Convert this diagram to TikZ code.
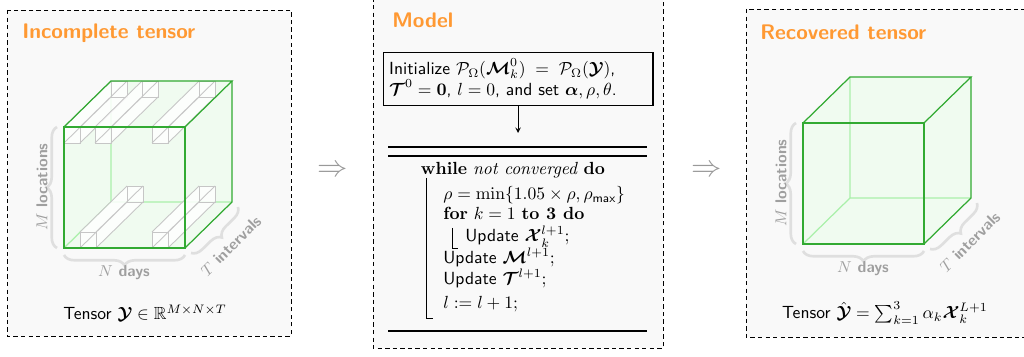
\documentclass[tikz,border=0pt]{standalone}
\usepackage{amsmath,amssymb,bm}
\usetikzlibrary{positioning,decorations.pathreplacing,arrows}

\definecolor{titleorange}{RGB}{255,153,51}
\definecolor{cubegreen}{RGB}{50,170,50}
\definecolor{cubelight}{RGB}{170,240,170}
\definecolor{cubefill}{RGB}{240,252,240}
\definecolor{panelgray}{RGB}{249,249,249}

\begin{document}
\begin{tikzpicture}[x=0.02cm,y=-0.02cm,
  panel/.style={draw, fill=panelgray, dash pattern=on 2.5pt off 1.8pt, line width=0.5pt},
  title/.style={text=titleorange, font=\sffamily\bfseries\large, anchor=west, inner sep=0},
  edge/.style={cubegreen, line width=0.7pt},
  hidden/.style={cubelight, line width=0.7pt},
  tube/.style={gray!45, line width=0.5pt},
  brace/.style={gray!25, line width=1.5pt, decorate, decoration={brace, amplitude=6pt}},
  axis/.style={text=gray!75, font=\sffamily\bfseries\small},
  algo/.style={anchor=base west, inner sep=0},
  rule/.style={line width=0.8pt}
]
\clip (0,0) rectangle (1024,357);

% panels
\draw[panel] (7,10) rectangle (291,336);
\draw[panel] (373,-10) rectangle (663,348);
\draw[panel] (746,9) rectangle (1030,337);

\node[title] (lefttitle) at (22,33) {Incomplete tensor};
\node[title] (modeltitle) at (392,20) {Model};
\node[title] (righttitle) at (760,32) {Recovered tensor};

% cubes: faces and hidden edges
\foreach \sx/\sy in {0/0, 739/-4} {
  \begin{scope}[shift={(\sx,\sy)}]
    \fill[cubefill, opacity=.9] (64,248) -- (64,127) -- (111,81) -- (232,81) -- (232,202) -- (185,248) -- cycle;
    \draw[hidden] (111,81) -- (111,202) -- (232,202) (111,202) -- (64,248);
  \end{scope}
}

% missing fibres
\foreach \x/\y in {64/127, 95/127, 152/127, 80/232, 152/232} {
  \fill[white, opacity=.85] (\x,\y+16) -- (\x,\y) -- (\x+47,\y-46) -- (\x+63,\y-46) -- (\x+63,\y-30) -- (\x+16,\y+16) -- cycle;
  \draw[tube] (\x,\y) rectangle +(16,16) (\x+47,\y-46) rectangle +(16,16);
  \draw[tube] (\x,\y) -- +(47,-46) (\x+16,\y) -- +(47,-46) (\x,\y+16) -- +(47,-46) (\x+16,\y+16) -- +(47,-46);
}

% cubes: visible edges, braces and axis labels
\foreach \sx/\sy in {0/0, 739/-4} {
  \begin{scope}[shift={(\sx,\sy)}]
    \draw[edge] (64,127) rectangle (185,248);
    \draw[edge] (64,127) -- (111,81) -- (232,81) -- (185,127);
    \draw[edge] (232,81) -- (232,202) -- (185,248);
    \draw[brace] (57,248) -- (57,127);
    \draw[brace] (185,255) -- (64,255);
    \draw[brace] (238,207) -- (191,253);
    \node[axis, rotate=90] at (42,187) {$M$ locations};
    \node[axis] at (124,273) {$N$ days};
    \node[axis, rotate=45] at (231,246) {$T$ intervals};
  \end{scope}
}

\node (leftcaption) at (145,313) {\sffamily Tensor $\bm{\mathcal{Y}}\in\mathbb{R}^{M\times N\times T}$};
\node (rightcaption) at (885,313) {\sffamily Tensor $\hat{\bm{\mathcal{Y}}}=\sum_{k=1}^{3}\alpha_k\bm{\mathcal{X}}_k^{L+1}$};

\node[text=gray!80] (toModel) at (333,171) {\fontsize{17}{17}\selectfont$\Rightarrow$};
\node[text=gray!80] (toRecovered) at (707,171) {\fontsize{17}{17}\selectfont$\Rightarrow$};

% model
\node[draw, line width=0.6pt, align=left, inner sep=3.5pt, text width=5.4cm-7pt] (init) at (518,79)
  {\sffamily Initialize $\mathcal{P}_\Omega(\bm{\mathcal{M}}_k^0)\;=\;\mathcal{P}_\Omega(\bm{\mathcal{Y}})$,\\
   $\bm{\mathcal{T}}^0=\mathbf{0}$, $l=0$, and set $\bm{\alpha},\rho,\theta$.};
\coordinate (looptop) at (518,133);
\draw[->, >=stealth] (init) -- (looptop);

\draw[rule] (388,147) -- (647,147);
\draw[rule] (388,156) -- (647,156);
\draw[rule] (388,331) -- (647,331);

\node[anchor=base, inner sep=0] (while) at (513,175) {\textbf{while} \textit{not converged} \textbf{do}};
\node[algo] (rho) at (443,200) {$\rho=\min\{1.05\times\rho,\rho_{\textsf{max}}\}$};
\node[algo] (for) at (443,220) {\textbf{for} $k=1$ \textbf{to 3 do}};
\node[algo] (updx) at (465,242) {\textsf{Update} $\bm{\mathcal{X}}_k^{l+1}$;};
\node[algo] (updm) at (443,264) {\textsf{Update} $\bm{\mathcal{M}}^{l+1}$;};
\node[algo] (updt) at (443,285) {\textsf{Update} $\bm{\mathcal{T}}^{l+1}$;};
\node[algo] (incl) at (443,309) {$l:=l+1$;};
\draw (426,178) -- (426,318) -- (433,318);
\draw (452,228) -- (452,248) -- (458,248);
\end{tikzpicture}
\end{document}
